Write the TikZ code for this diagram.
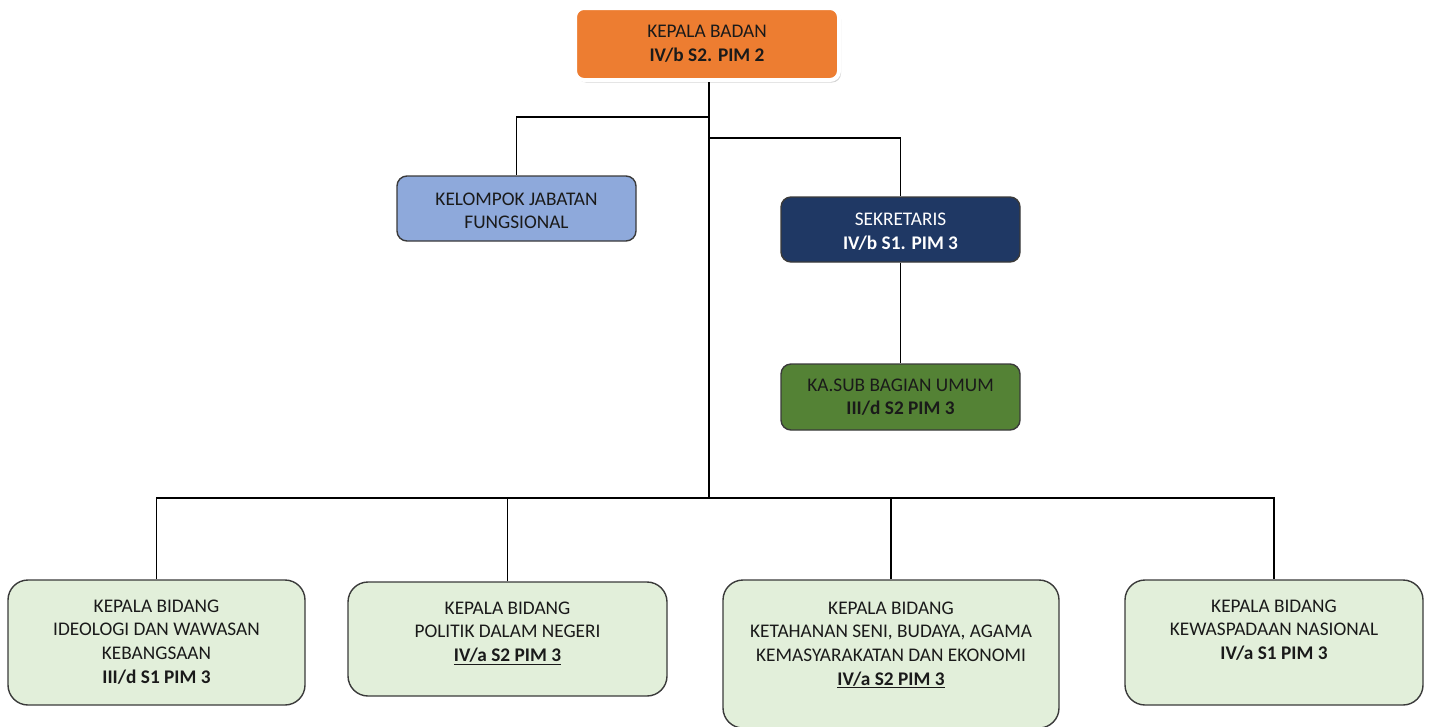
\documentclass[tikz,border=0pt]{standalone}
\usepackage{fontspec}
\setmainfont{Carlito}
\usetikzlibrary{shadows}
\definecolor{orangeK}{HTML}{ED7D31}
\definecolor{blueK}{HTML}{8EA9DB}
\definecolor{navyK}{HTML}{1F3864}
\definecolor{greenK}{HTML}{548235}
\definecolor{paleK}{HTML}{E2EFDA}
\definecolor{edgeK}{HTML}{3A3A3A}
\definecolor{txtK}{HTML}{1A1A1A}
\tikzset{
  box/.style={draw=edgeK, line width=1.4pt, rounded corners=10pt, inner sep=0pt},
  bbox/.style={box, fill=paleK, rounded corners=20pt},
  txt/.style={align=center, inner sep=0pt, text=txtK, font=\fontsize{19.3}{23.6}\selectfont},
  conn/.style={draw=black, line width=1.3pt}
}
\begin{document}
\begin{tikzpicture}[x=1pt,y=-1pt]
\useasboundingbox (0,0) rectangle (1431,726);
% top box
\node[box, draw=white, line width=4pt, fill=orangeK, rounded corners=9pt,
      minimum width=264pt, minimum height=72pt,
      drop shadow={opacity=0.35, shadow xshift=2pt, shadow yshift=-2.5pt}] (kb) at (707,44) {};
\node[txt] (kbt) at (707,43.5) {KEPALA BADAN\\\textbf{IV/b S2. PIM 2}};
% second level
\node[box, fill=blueK, minimum width=239pt, minimum height=65pt] (kj) at (516.5,208.5) {};
\node[txt] (kjt) at (516.5,211) {KELOMPOK JABATAN\\FUNGSIONAL};
\node[box, fill=navyK, minimum width=239pt, minimum height=65pt] (sk) at (900.5,229.5) {};
\node[txt, text=white] (skt) at (900.5,231.5) {SEKRETARIS\\\textbf{IV/b S1. PIM 3}};
\node[box, fill=greenK, minimum width=239pt, minimum height=66pt] (ks) at (900.5,397) {};
\node[txt] (kst) at (900.5,397) {KA.SUB BAGIAN UMUM\\\textbf{III/d S2 PIM 3}};
% bottom level
\node[bbox, minimum width=297pt, minimum height=125pt] (b1) at (156.5,642.5) {};
\node[txt, anchor=north] (b1t) at (156.5,599.5) {KEPALA BIDANG\\IDEOLOGI DAN WAWASAN\\KEBANGSAAN\\\textbf{III/d S1 PIM 3}};
\node[bbox, minimum width=319pt, minimum height=114pt] (b2) at (507.5,639) {};
\node[txt, anchor=north] (b2t) at (507.5,601.5) {KEPALA BIDANG\\POLITIK DALAM NEGERI\\\textbf{\underline{IV/a S2 PIM 3}}};
\node[bbox, minimum width=336pt, minimum height=148pt] (b3) at (891,654) {};
\node[txt, anchor=north] (b3t) at (891,601.5) {KEPALA BIDANG\\KETAHANAN SENI, BUDAYA, AGAMA\\KEMASYARAKATAN DAN EKONOMI\\\textbf{\underline{IV/a S2 PIM 3}}};
\node[bbox, minimum width=298pt, minimum height=125pt] (b4) at (1274,642.5) {};
\node[txt, anchor=north] (b4t) at (1274,599.5) {KEPALA BIDANG\\KEWASPADAAN NASIONAL\\\textbf{IV/a S1 PIM 3}};
% junctions
\coordinate (j1) at (709,117);
\coordinate (j2) at (709,138);
\coordinate (bus) at (709,498);
% connectors
\draw[conn] (bus |- kb.south) -- (bus);
\draw[conn] (j1) -| (kj.north);
\draw[conn] (j2) -| (sk.north);
\draw[conn] (sk.south -| ks.north) -- (ks.north);
\draw[conn] (b1.north) |- (bus);
\draw[conn] (bus) -| (b4.north);
\draw[conn] (b2.north) -- (b2.north |- bus);
\draw[conn] (b3.north) -- (b3.north |- bus);
\end{tikzpicture}
\end{document}
